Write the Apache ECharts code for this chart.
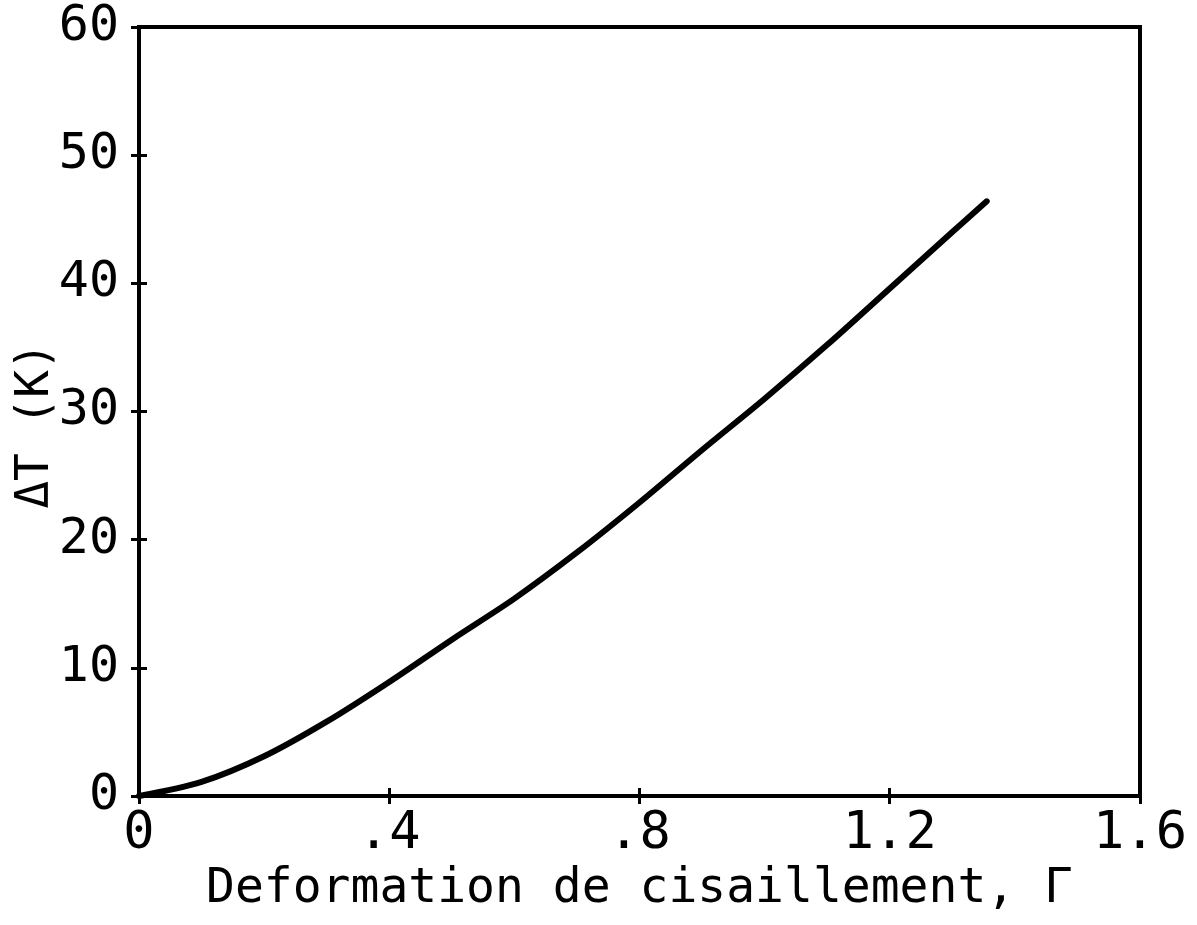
<!DOCTYPE html>
<html>
<head>
<meta charset="utf-8">
<title>ΔT vs Deformation de cisaillement</title>
<script src="https://cdn.jsdelivr.net/npm/echarts@6/dist/echarts.min.js"></script>
<style>
  html, body { margin: 0; padding: 0; background: #fff; }
  #chart { width: 1197px; height: 925px; }
</style>
</head>
<body>
<div id="chart"></div>
<script>
// Shear strain Γ and temperature rise ΔT (K)
var gamma = [0, 0.1, 0.2, 0.3, 0.4, 0.5, 0.6, 0.7, 0.8, 0.9, 1.0, 1.1, 1.2, 1.3, 1.355];
var deltaT = [0, 1.1, 3.1, 5.8, 8.9, 12.2, 15.4, 19.0, 22.9, 27.0, 31.0, 35.2, 39.6, 44.0, 46.4];

// Tick labels as printed on the axes
var xTickValues = [0, 0.4, 0.8, 1.2, 1.6];
var xTickLabels = ['0', '.4', '.8', '1.2', '1.6'];
var yTickValues = [0, 10, 20, 30, 40, 50, 60];
var yTickLabels = ['0', '10', '20', '30', '40', '50', '60'];

var xName = 'Deformation de cisaillement, Γ';
var yName = 'ΔT (K)';

var FONT = '"DejaVu Sans Mono", "Liberation Mono", monospace';

function lookup(values, labels) {
  return function (v) {
    for (var i = 0; i < values.length; i++) {
      if (Math.abs(values[i] - v) < 1e-6) return labels[i];
    }
    return '';
  };
}

var points = gamma.map(function (g, i) { return [g, deltaT[i]]; });

var chart = echarts.init(document.getElementById('chart'), null, { renderer: 'canvas' });

var tickStyle = { color: '#000', width: 3 };

chart.setOption({
  backgroundColor: '#fff',
  animation: false,
  grid: {
    left: 139, right: 57, top: 27, bottom: 129,
    containLabel: false, outerBoundsMode: 'none',
    show: true, borderColor: '#000', borderWidth: 4, backgroundColor: 'transparent'
  },
  xAxis: [
    {
      type: 'value', min: 0, max: 1.6, interval: 0.4,
      position: 'bottom',
      name: xName, nameLocation: 'middle', nameGap: 70, nameMoveOverlap: false,
      nameTextStyle: { fontFamily: FONT, fontSize: 48, color: '#000' },
      axisLine: { show: true, lineStyle: { color: '#000', width: 4 } },
      axisTick: { show: true, inside: false, length: 8, lineStyle: tickStyle },
      axisLabel: {
        fontFamily: FONT, fontSize: 52, color: '#000', margin: 12,
        formatter: lookup(xTickValues, xTickLabels)
      },
      splitLine: { show: false }
    },
    {
      type: 'value', min: 0, max: 1.6, interval: 0.4,
      position: 'bottom',
      axisLine: { show: false },
      axisTick: { show: true, inside: true, length: 8, lineStyle: tickStyle },
      axisLabel: { show: false },
      splitLine: { show: false }
    }
  ],
  yAxis: [
    {
      type: 'value', min: 0, max: 60, interval: 10,
      position: 'left',
      name: yName, nameLocation: 'middle', nameGap: 80, nameRotate: 90, nameMoveOverlap: false,
      nameTextStyle: { fontFamily: FONT, fontSize: 46, color: '#000', padding: [0, 28, 0, 0] },
      axisLine: { show: true, lineStyle: { color: '#000', width: 4 } },
      axisTick: { show: true, inside: false, length: 8, lineStyle: tickStyle },
      axisLabel: {
        fontFamily: FONT, fontSize: 50, color: '#000', margin: 20,
        formatter: lookup(yTickValues, yTickLabels)
      },
      splitLine: { show: false }
    },
    {
      type: 'value', min: 0, max: 60, interval: 10,
      position: 'left',
      axisLine: { show: false },
      axisTick: { show: true, inside: true, length: 8, lineStyle: tickStyle },
      axisLabel: { show: false },
      splitLine: { show: false }
    }
  ],
  series: [
    {
      type: 'line',
      xAxisIndex: 0, yAxisIndex: 0,
      data: points,
      smooth: 0.3,
      showSymbol: false,
      lineStyle: { color: '#000', width: 6, cap: 'round', join: 'round' }
    }
  ]
});
</script>
</body>
</html>
